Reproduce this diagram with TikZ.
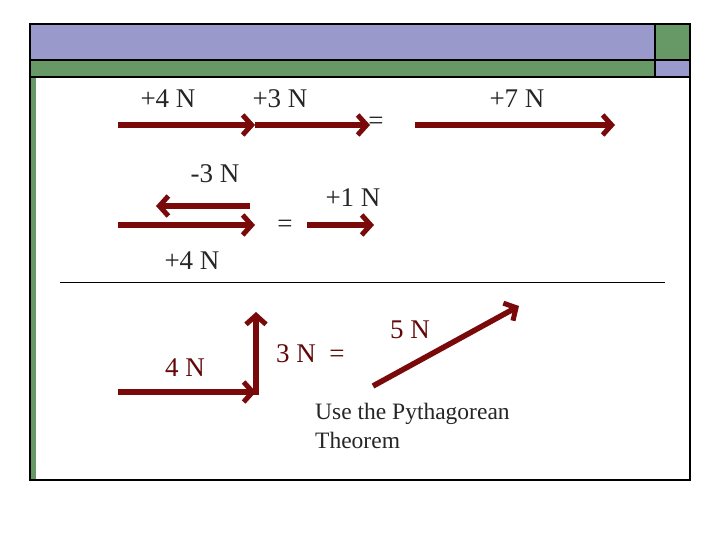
\documentclass[tikz,border=0pt]{standalone}
\usepackage{fontspec}
\setmainfont{Liberation Serif}
\usetikzlibrary{arrows.meta}
\definecolor{vred}{HTML}{7A0A0A}
\definecolor{purp}{HTML}{9999CC}
\definecolor{grn}{HTML}{669966}
\begin{document}
\begin{tikzpicture}[x=1pt,y=-1pt,
  vec/.style={draw=vred,line width=5.5pt,-{Straight Barb[length=9pt,width=20pt,line width=5pt]}},
  lbl/.style={font=\fontsize{27}{30}\selectfont,text=black!85,inner sep=0pt},
  rlbl/.style={font=\fontsize{27}{30}\selectfont,text=vred!80!black,inner sep=0pt}]
\useasboundingbox (0,0) rectangle (720,540);
\fill[white] (0,0) rectangle (720,540);
% slide frame
\fill[purp] (30,24) rectangle (655,60);
\fill[grn] (655,24) rectangle (690,60);
\fill[grn] (30,60) rectangle (655,77);
\fill[purp] (655,60) rectangle (690,77);
\fill[grn] (30,77) rectangle (36,480);
\draw[line width=1.5pt] (30,24) rectangle (690,480);
\draw[line width=1.5pt] (30,60) -- (690,60);
\draw[line width=1.5pt] (30,77) -- (690,77);
\draw[line width=1.5pt] (655,24) -- (655,77);
% top row
\coordinate (a1) at (118,125); \coordinate (a2) at (255,125); \coordinate (a3) at (370,125);
\coordinate (b1) at (415,125); \coordinate (b2) at (615,125);
\draw[vec] (a1) -- (a2);
\draw[vec] (a2) -- (a3);
\draw[vec] (b1) -- (b2);
\node[lbl] (l1) at (168,99) {+4 N};
\node[lbl] (l2) at (280,99) {+3 N};
\node[lbl] (eq1) at (376,123) {=};
\node[lbl] (l3) at (517,99) {+7 N};
% second row
\coordinate (c1) at (250,206); \coordinate (c2) at (156,206);
\coordinate (d1) at (118,225); \coordinate (d2) at (255,225);
\coordinate (e1) at (307,225); \coordinate (e2) at (374,225);
\node[lbl] (l4) at (215,174) {-3 N};
\draw[vec] (c1) -- (c2);
\draw[vec] (d1) -- (d2);
\node[lbl] (eq2) at (285,226) {=};
\draw[vec] (e1) -- (e2);
\node[lbl] (l5) at (353,198) {+1 N};
\node[lbl] (l6) at (192,261) {+4 N};
\coordinate (h1) at (60,282); \coordinate (h2) at (665,282);
\draw[line width=1pt] (h1) -- (h2);
% bottom
\coordinate (f1) at (118,392); \coordinate (f2) at (256,392); \coordinate (f3) at (256,312);
\coordinate (g1) at (373,386); \coordinate (g2) at (519,306);
\draw[vec] (f1) -- (f2);
\draw[draw=vred,line width=5.5pt] (f2) -- ++(0,2.75);
\draw[vec] (256,394.75) -- (f3);
\draw[vec] (g1) -- (g2);
\node[rlbl] (l7) at (185,368) {4 N};
\node[rlbl,anchor=west] (l8) at (276,354) {3 N \ =};
\node[rlbl] (l9) at (410,330) {5 N};
\node[lbl,anchor=north west,align=left,font=\fontsize{23.5}{29}\selectfont] (t) at (315,403) {Use the Pythagorean\\Theorem};
\end{tikzpicture}
\end{document}
